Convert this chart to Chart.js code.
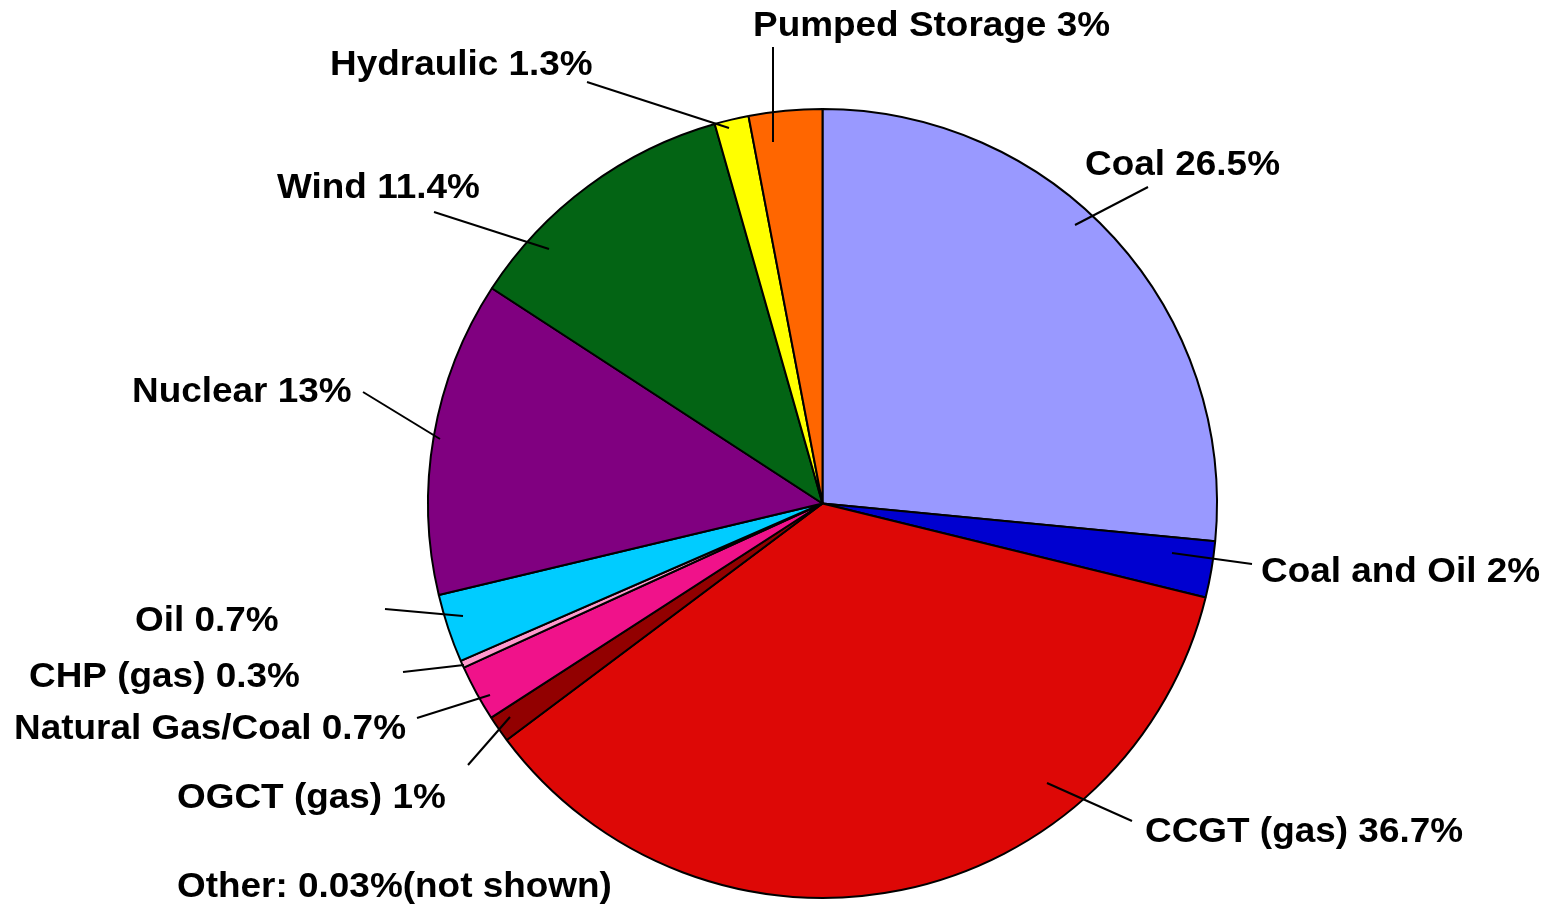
<!DOCTYPE html>
<html>
<head>
<meta charset="utf-8">
<script src="https://cdn.jsdelivr.net/npm/chart.js@4/dist/chart.umd.min.js"></script>
<style>
  html, body { margin: 0; padding: 0; background: #fff; }
  #wrap { width: 1549px; height: 906px; }
</style>
</head>
<body>
<div id="wrap"><canvas id="c" width="1549" height="906"></canvas></div>
<script>
// slice order, clockwise from 12 o'clock
const categories = ["Coal", "Coal and Oil", "CCGT (gas)", "OGCT (gas)", "Natural Gas/Coal",
  "CHP (gas)", "Oil", "Nuclear", "Wind", "Hydraulic", "Pumped Storage"];
// slice sizes (%)
const shares = [26.5, 2.3, 35.9, 1.1, 2.3, 0.3, 2.8, 12.9, 11.4, 1.4, 3.0];
// label texts as printed on the chart
const labelTexts = ["Coal 26.5%", "Coal and Oil 2%", "CCGT (gas) 36.7%", "OGCT (gas) 1%",
  "Natural Gas/Coal 0.7%", "CHP (gas) 0.3%", "Oil 0.7%", "Nuclear 13%", "Wind 11.4%",
  "Hydraulic 1.3%", "Pumped Storage 3%"];
const footnote = "Other: 0.03%(not shown)";

const sliceColors = ["#9999FF", "#0000D0", "#DD0806", "#920000", "#F0128A",
  "#FF99CC", "#00CCFF", "#800080", "#036414", "#FFFF00", "#FF6600"];

// label layout: text left/baseline, leader line from (x1,y1) to (x2,y2)
const labelLayout = [
  { x: 1085, y: 175, line: [1148, 187, 1075, 225] },
  { x: 1261, y: 582, line: [1252, 564, 1172, 553] },
  { x: 1145, y: 842, line: [1132, 821, 1047, 783] },
  { x: 177, y: 808, line: [468, 765, 510, 717] },
  { x: 14, y: 739, line: [417, 718, 490, 695] },
  { x: 29, y: 687, line: [403, 672, 464, 665] },
  { x: 135, y: 631, line: [385, 609, 463, 616] },
  { x: 132, y: 402, line: [363, 392, 440, 439] },
  { x: 277, y: 198, line: [434, 212, 549, 249] },
  { x: 330, y: 75, line: [587, 82, 729, 128] },
  { x: 753, y: 36, line: [773, 47, 773, 142] }
];
const footPos = { x: 177, y: 897 };

const FONT = "bold 35px 'Liberation Sans', Arial, sans-serif";
const STRETCH = 1.055;

function drawText(ctx, s, x, y) {
  ctx.save();
  ctx.translate(x, y);
  ctx.scale(STRETCH, 1);
  ctx.fillText(s, 0, 0);
  ctx.restore();
}

const labelPlugin = {
  id: "pieLabels",
  afterDraw(chart) {
    const ctx = chart.ctx;
    ctx.save();
    ctx.strokeStyle = "#000";
    ctx.lineWidth = 2;
    labelLayout.forEach(function (l) {
      ctx.beginPath();
      ctx.moveTo(l.line[0], l.line[1]);
      ctx.lineTo(l.line[2], l.line[3]);
      ctx.stroke();
    });
    ctx.fillStyle = "#000";
    ctx.font = FONT;
    ctx.textAlign = "left";
    ctx.textBaseline = "alphabetic";
    labelLayout.forEach(function (l, i) {
      drawText(ctx, labelTexts[i], l.x, l.y);
    });
    drawText(ctx, footnote, footPos.x, footPos.y);
    ctx.restore();
  }
};

new Chart(document.getElementById("c"), {
  type: "pie",
  data: {
    labels: categories,
    datasets: [{
      data: shares,
      backgroundColor: sliceColors,
      borderColor: "#000",
      borderWidth: 2,
      borderAlign: "center"
    }]
  },
  options: {
    responsive: false,
    animation: false,
    devicePixelRatio: 1,
    layout: { padding: { left: 427, right: 331, top: 108, bottom: 7 } },
    plugins: {
      legend: { display: false },
      tooltip: { enabled: false }
    }
  },
  plugins: [labelPlugin]
});
</script>
</body>
</html>
